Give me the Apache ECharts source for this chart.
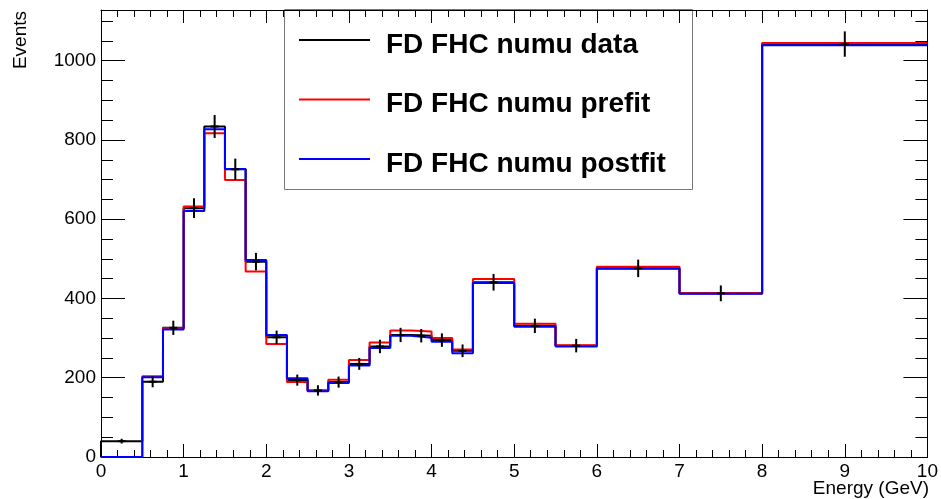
<!DOCTYPE html>
<html>
<head>
<meta charset="utf-8">
<script src="https://cdn.jsdelivr.net/npm/echarts@6/dist/echarts.min.js"></script>
<style>
  html, body { margin: 0; padding: 0; background: #fff; }
  #chart { width: 941px; height: 499px; }
</style>
</head>
<body>
<div id="chart"></div>
<script>
// FD FHC numu 能谱 - 数据 / prefit / postfit

// ============ 数据 ============
const binEdges = [0, 0.5, 0.75, 1, 1.25, 1.5, 1.75, 2, 2.25, 2.5, 2.75, 3, 3.25, 3.5, 3.75, 4, 4.25, 4.5, 5, 5.5, 6, 7, 8, 10];
const dataCounts = [40, 190, 326, 628, 834, 726, 493, 302, 194, 168, 189, 235, 279, 308, 306, 295, 268, 441, 331, 281, 476, 413, 1042];
const dataErrors = [6, 14, 18, 25, 29, 27, 22, 17, 14, 13, 14, 15, 17, 18, 17, 17, 16, 21, 18, 17, 22, 20, 32];
const prefit = [0, 204, 325, 632, 817, 699, 468, 285, 189, 168, 195, 245, 289, 319, 317, 300, 271, 449, 336, 282, 480, 413, 1045];
const postfit = [0, 201, 322, 621, 827, 727, 497, 308, 199, 166, 187, 231, 275, 306, 301, 291, 262, 439, 329, 279, 475, 412, 1039];

const legendNames = ['FD FHC numu data', 'FD FHC numu prefit', 'FD FHC numu postfit'];
const legendColors = ['#000000', '#ff0000', '#0000ff'];

const FONT = '"Liberation Sans", Arial, Helvetica, sans-serif';

// 直方图台阶点：每个 bin 的下边沿 + 最后的上边沿
function stepPoints(values, fromZero) {
  const pts = [];
  if (fromZero) pts.push([binEdges[0], 0]);
  values.forEach((v, i) => pts.push([binEdges[i], v]));
  pts.push([binEdges[binEdges.length - 1], values[values.length - 1]]);
  return pts;
}

const errPoints = dataCounts.map((v, i) => [(binEdges[i] + binEdges[i + 1]) / 2, v, dataErrors[i]]);

// ============ 坐标轴 ============
function xAxisCfg(pos, labels) {
  return {
    type: 'value', position: pos, min: 0, max: 10, interval: 1,
    axisLine: { show: true, onZero: false, lineStyle: { color: '#000', width: 1 } },
    axisTick: { show: true, inside: true, length: 13, lineStyle: { color: '#000' } },
    minorTick: { show: true, splitNumber: 5, length: 7, lineStyle: { color: '#000' } },
    axisLabel: { show: labels, color: '#000', fontSize: 19, fontFamily: FONT, margin: 5, formatter: v => String(v) },
    splitLine: { show: false }, minorSplitLine: { show: false }
  };
}

function yAxisCfg(pos, labels, interval, tickLen, showLine) {
  return {
    type: 'value', position: pos, min: 0, max: 1128, interval: interval,
    axisLine: { show: showLine, onZero: false, lineStyle: { color: '#000', width: 1 } },
    axisTick: { show: true, inside: true, length: tickLen, lineStyle: { color: '#000' } },
    axisLabel: { show: labels, color: '#000', fontSize: 19, fontFamily: FONT, margin: 5, showMaxLabel: false, formatter: v => String(v) },
    splitLine: { show: false }
  };
}

const chart = echarts.init(document.getElementById('chart'), null, { renderer: 'canvas' });

const stepLine = (name, values, color, z, fromZero) => ({
  name: name, type: 'line', step: 'end', data: stepPoints(values, fromZero),
  xAxisIndex: 0, yAxisIndex: 0, symbol: 'none', z: z, silent: true, animation: false,
  lineStyle: { color: color, width: 2 }
});

chart.setOption({
  animation: false,
  grid: { left: 101, right: 13, top: 10, bottom: 42, containLabel: false },
  xAxis: [xAxisCfg('bottom', true), xAxisCfg('top', false)],
  yAxis: [
    yAxisCfg('left', true, 200, 24, true),
    yAxisCfg('left', false, 50, 12, false),
    yAxisCfg('right', false, 200, 24, true),
    yAxisCfg('right', false, 50, 12, false)
  ],
  series: [
    stepLine(legendNames[0], dataCounts, legendColors[0], 2, true),
    stepLine(legendNames[1], prefit, legendColors[1], 3, false),
    stepLine(legendNames[2], postfit, legendColors[2], 4, false),
    {
      type: 'custom', xAxisIndex: 0, yAxisIndex: 0, z: 5, silent: true,
      data: errPoints,
      encode: { x: 0, y: 1 },
      renderItem(params, api) {
        const x = api.value(0), v = api.value(1), e = api.value(2);
        const top = api.coord([x, v + e]);
        const bot = api.coord([x, v - e]);
        const mid = api.coord([x, v]);
        const st = { stroke: '#000', lineWidth: 2 };
        return {
          type: 'group',
          children: [
            { type: 'line', shape: { x1: top[0], y1: top[1], x2: bot[0], y2: bot[1] }, style: st },
            { type: 'line', shape: { x1: mid[0] - 4, y1: mid[1], x2: mid[0] + 4, y2: mid[1] }, style: st }
          ]
        };
      }
    }
  ],
  graphic: [
    // 轴标题
    {
      type: 'text', x: 21, y: 11, rotation: Math.PI / 2,
      style: { text: 'Events', fontSize: 19, fontFamily: FONT, fill: '#000', align: 'right', verticalAlign: 'middle' }
    },
    {
      type: 'text', x: 929, y: 489,
      style: { text: 'Energy (GeV)', fontSize: 19, fontFamily: FONT, fill: '#000', align: 'right', verticalAlign: 'middle' }
    },
    // 图例
    {
      type: 'group', z: 100,
      children: [
        { type: 'rect', shape: { x: 284.5, y: 9.5, width: 408, height: 180 }, style: { fill: '#fff', stroke: '#777', lineWidth: 1 } },
        ...legendNames.flatMap((name, i) => [
          { type: 'line', shape: { x1: 299, y1: 40 + i * 59.5, x2: 370, y2: 40 + i * 59.5 }, style: { stroke: legendColors[i], lineWidth: 2 } },
          { type: 'text', x: 386, y: 45 + i * 59.5, style: { text: name, fontSize: 28, fontWeight: 'bold', fontFamily: FONT, fill: '#000', align: 'left', verticalAlign: 'middle' } }
        ])
      ]
    }
  ]
});
</script>
</body>
</html>
